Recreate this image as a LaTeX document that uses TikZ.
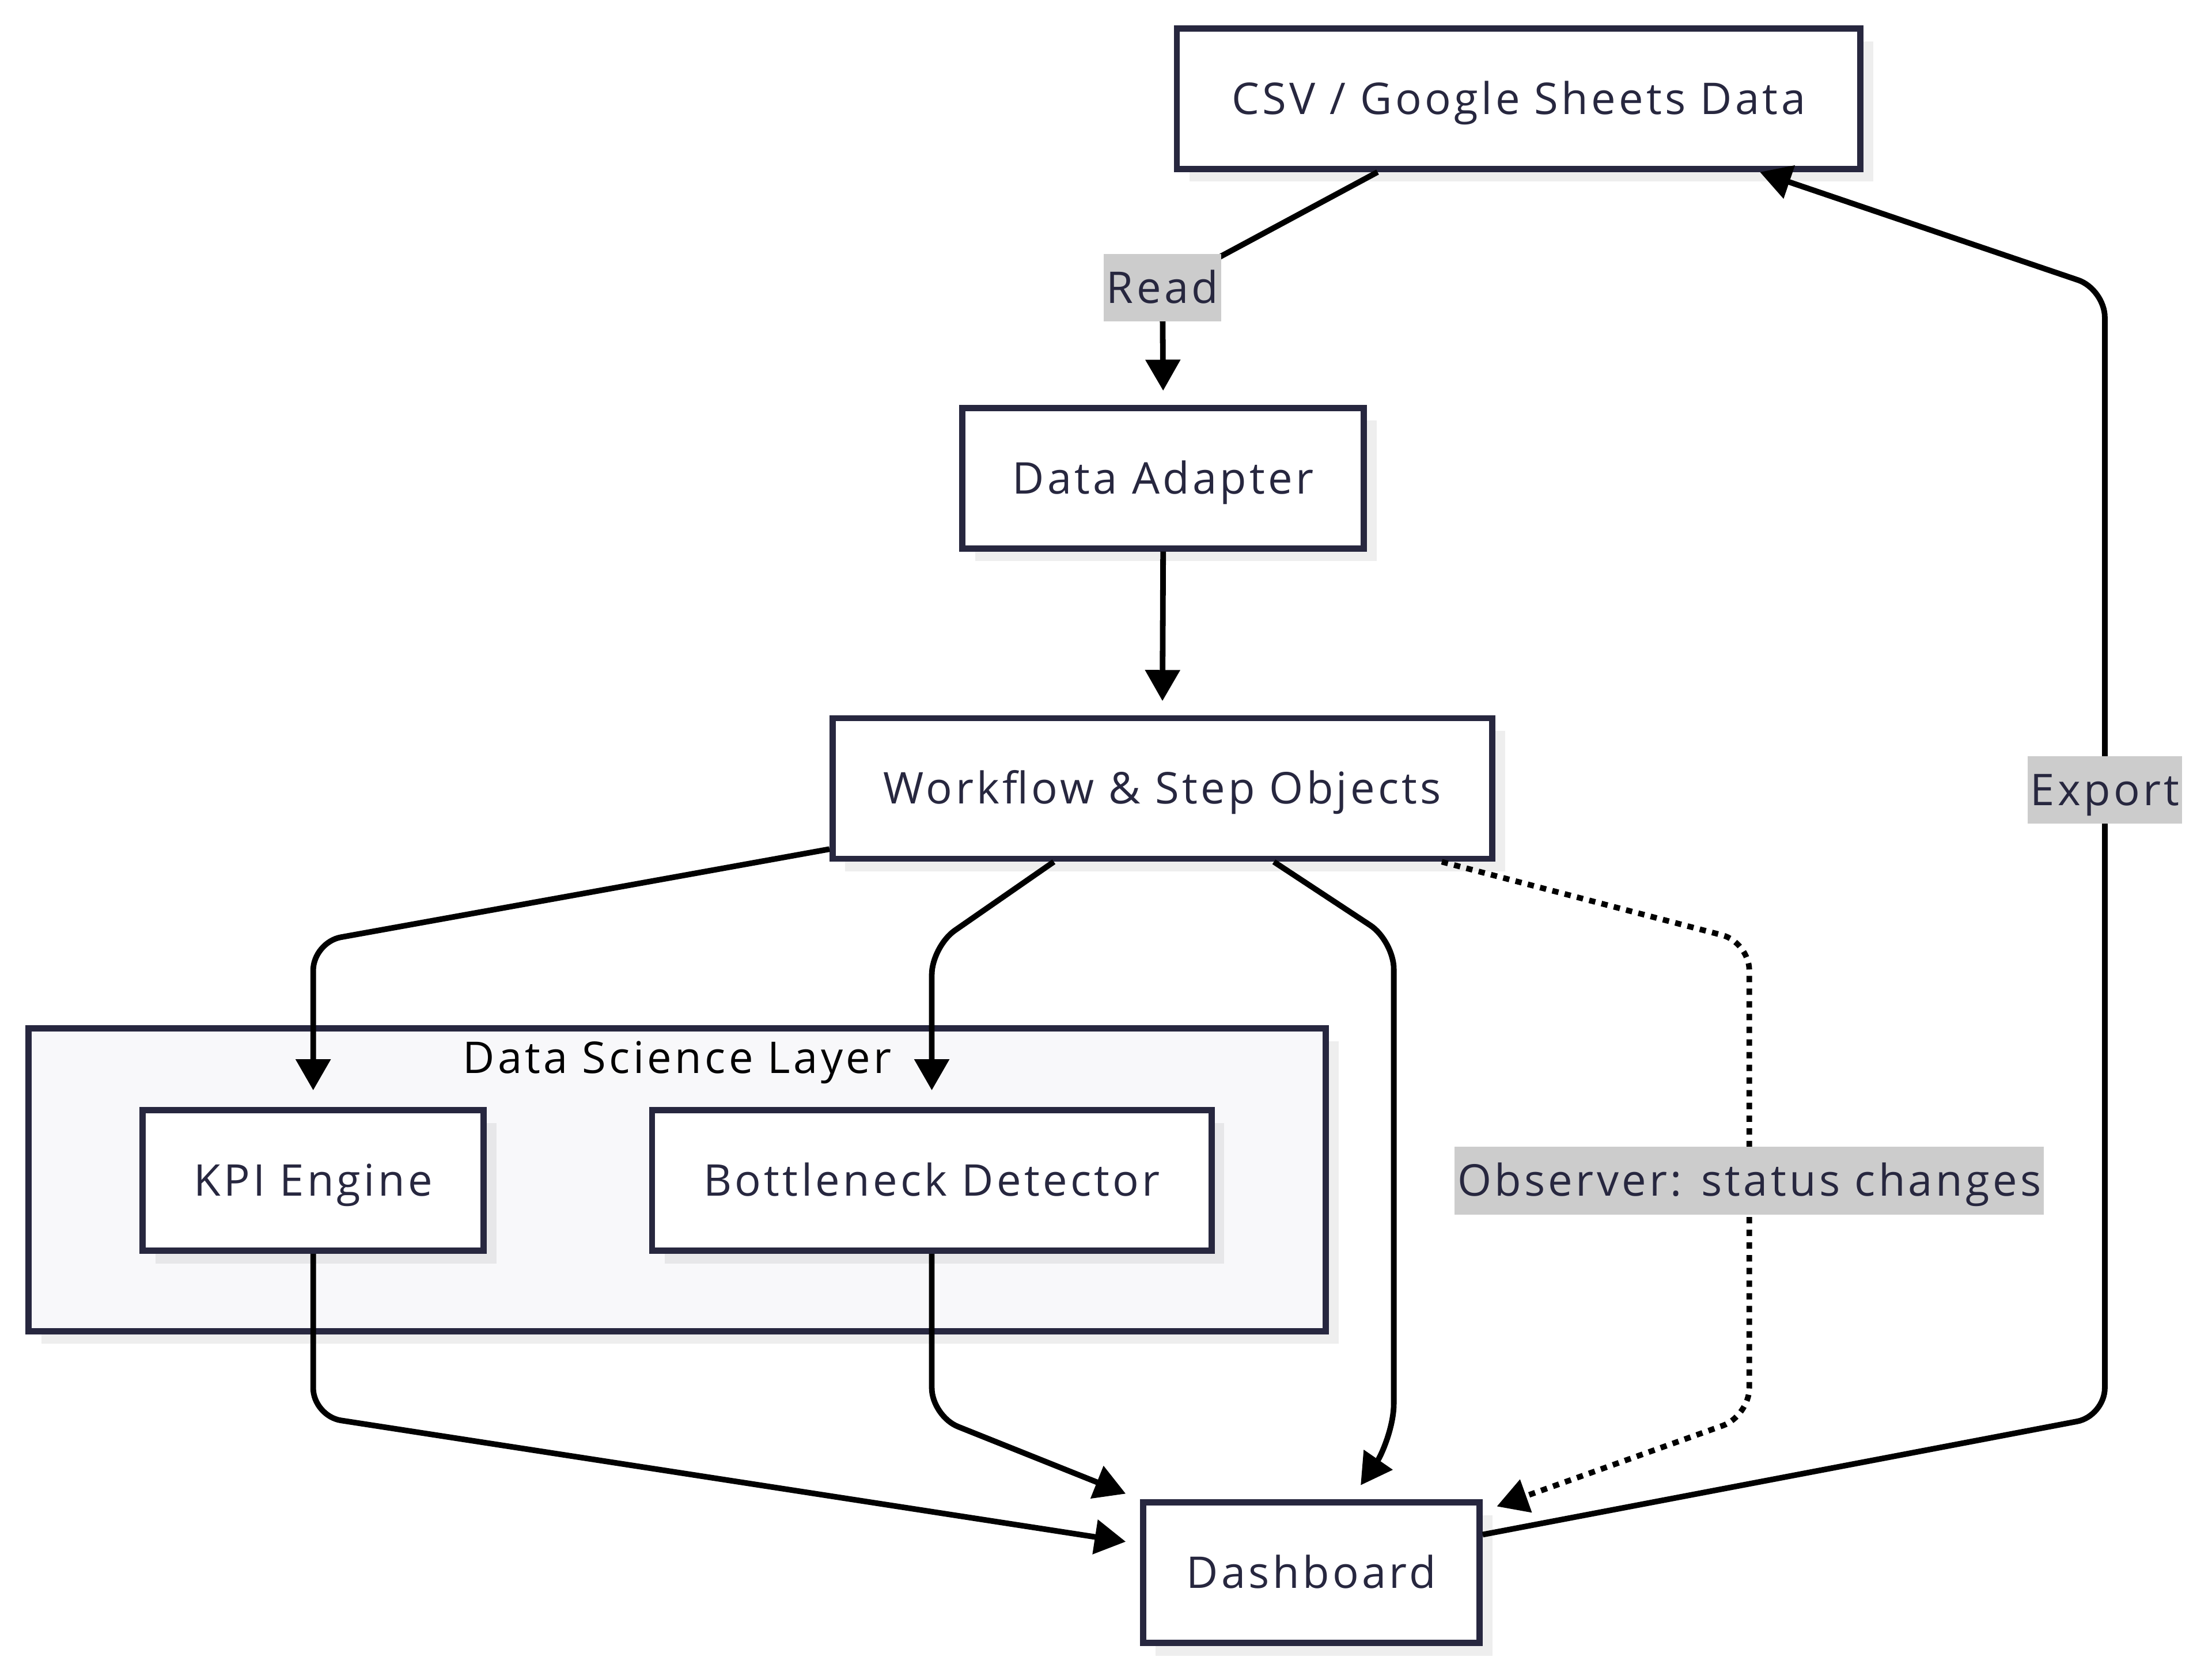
\documentclass[tikz,border=0pt]{standalone}
\usepackage{fontspec}
\setmainfont{Open Sans}[LetterSpace=7]
\usetikzlibrary{arrows.meta,calc,shadows}
\definecolor{ink}{HTML}{27273F}
\definecolor{clfill}{HTML}{F8F8FA}
\definecolor{lblgray}{HTML}{CCCCCC}
\tikzset{
  txt/.style={font=\fontsize{31}{37}\selectfont, text height=28pt, text depth=6pt},
  box/.style={draw=ink, line width=4.4pt, fill=white, text=ink, inner sep=0pt, txt,
    general shadow={fill=black, fill opacity=0.065, shadow xshift=9pt, shadow yshift=-9pt}},
  clusterbox/.style={draw=ink, line width=4.4pt, fill=clfill, inner sep=0pt,
    general shadow={fill=black, fill opacity=0.065, shadow xshift=9pt, shadow yshift=-9pt}},
  edge/.style={draw=black, line width=4pt, -{Triangle[length=22pt,width=24pt]}, rounded corners=20pt},
  dottededge/.style={dash pattern=on 4.5pt off 4.5pt},
  lbl/.style={fill=lblgray, text=ink, inner xsep=2pt, inner ysep=7pt, txt},
}
\begin{document}
\begin{tikzpicture}[x=1pt,y=-1pt]
\useasboundingbox (0,0) rectangle (1568,1188);
\fill[white] (0,0) rectangle (1568,1188);

% cluster
\node[clusterbox, minimum width=919.6pt, minimum height=214.6pt] (dsl) at (480,836.5) {};
\node[text=black, txt, inner sep=0pt] (dsltitle) at (480,750) {Data Science Layer};

% nodes
\node[box, minimum width=484.6pt, minimum height=99.6pt] (csv) at (1076.5,70) {CSV / Google Sheets Data};
\node[box, minimum width=284.6pt, minimum height=99.6pt] (da) at (824.5,339) {Data Adapter};
\node[box, minimum width=467.6pt, minimum height=99.6pt] (wf) at (824,559) {Workflow \& Step Objects};
\node[box, minimum width=241.6pt, minimum height=99.6pt] (kpi) at (222,837) {KPI Engine};
\node[box, minimum width=396.6pt, minimum height=99.6pt] (bn) at (660.5,837) {Bottleneck Detector};
\node[box, minimum width=238.6pt, minimum height=99.6pt] (db) at (929.5,1115) {Dashboard};

% edges
\draw[edge] ([xshift=-100pt]csv.south) -- (824,204) -- ([yshift=10pt]da.north);
\draw[edge] (da.south) -- ([yshift=10pt]wf.north);
\draw[edge] ([yshift=9pt]wf.south west) -- (222,668) -- ([yshift=12pt]kpi.north);
\draw[edge] ([xshift=-77pt]wf.south) -- (660.5,671) -- ([yshift=12pt]bn.north);
\draw[edge] ([xshift=79pt]wf.south) -- (988,667) -- (988,975) .. controls (988,1012) and (979,1032) .. ([xshift=35pt,yshift=10pt]db.north);
\draw[edge,dottededge] ([xshift=198pt]wf.south) -- (1240,668) -- (1240,1004) -- ([xshift=10pt,yshift=-5pt]db.north east);
\draw[edge] (kpi.south) -- (222,1004) -- ([xshift=-10pt,yshift=22pt]db.west);
\draw[edge] (bn.south) -- (660.5,1004) -- ([xshift=-10pt,yshift=4pt]db.north west);
\draw[edge] ([yshift=27pt]db.east) -- (1492,1004) -- (1492,205) -- ([xshift=171pt]csv.south);

% edge labels
\node[lbl] (lread) at (824,204) {Read};
\node[lbl] (lexport) at (1492,560) {Export};
\node[lbl] (lobs) at (1240,837) {Observer: status changes};
\end{tikzpicture}
\end{document}
